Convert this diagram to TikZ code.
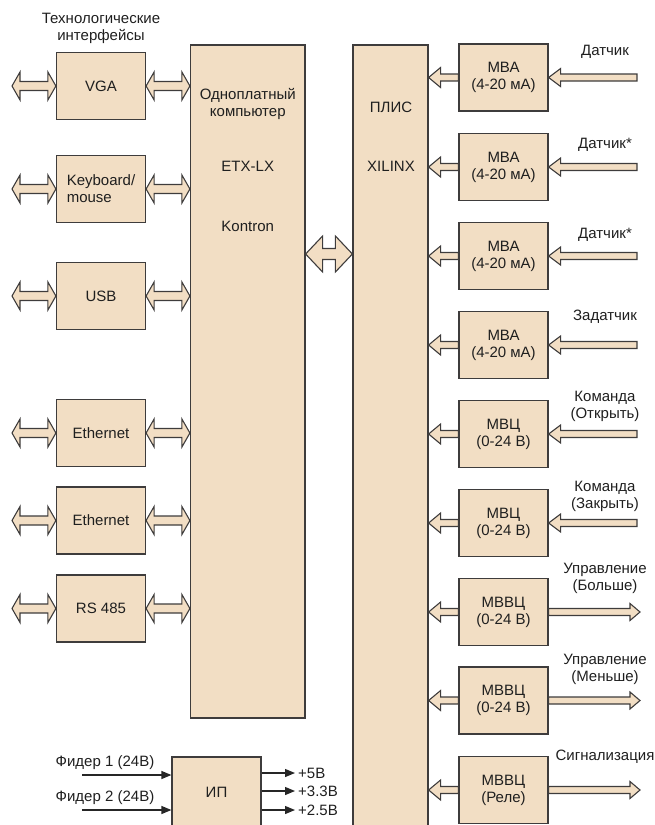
\documentclass[tikz,border=0pt]{standalone}
\usepackage{fontspec}
\setmainfont{Liberation Sans}
\usetikzlibrary{calc,arrows.meta}

\definecolor{boxfill}{RGB}{242,222,196}
\definecolor{boxline}{RGB}{62,60,60}

\tikzset{
  dbl/.style n args={3}{fill=boxfill, draw=boxline, line width=1.1pt,
    to path={let \p1=(\tikztostart), \p2=(\tikztotarget),
      \p3=($(\tikztostart)!#1!(\tikztotarget)$), \p4=($(\tikztotarget)!#1!(\tikztostart)$) in
      (\x1,\y1) -- (\x3,\y1+#2) -- (\x3,\y1+#3) -- (\x4,\y1+#3) -- (\x4,\y1+#2) -- (\x2,\y1)
      -- (\x4,\y1-#2) -- (\x4,\y1-#3) -- (\x3,\y1-#3) -- (\x3,\y1-#2) -- cycle}},
  sgl/.style n args={3}{fill=boxfill, draw=boxline, line width=1.1pt,
    to path={let \p1=(\tikztostart), \p2=(\tikztotarget),
      \p4=($(\tikztotarget)!#1!(\tikztostart)$) in
      (\x1,\y1+#3) -- (\x4,\y1+#3) -- (\x4,\y1+#2) -- (\x2,\y1)
      -- (\x4,\y1-#2) -- (\x4,\y1-#3) -- (\x1,\y1-#3) -- cycle}}
}

\begin{document}
\begin{tikzpicture}[x=1pt, y=-1pt,
  every node/.style={font=\fontsize{15}{17}\selectfont, text=black!88, align=center},
  box/.style={draw=boxline, line width=1.2pt, fill=boxfill, inner sep=0pt,
    minimum width=89pt, minimum height=67pt},
  port/.style={dbl={8pt}{14pt}{4.5pt}},
  bus/.style={dbl={17pt}{18pt}{5.5pt}},
  sense/.style={sgl={12pt}{9pt}{3.5pt}},
  tap/.style={sgl={12pt}{10pt}{3.5pt}},
  drive/.style={sgl={10pt}{8.5pt}{3.5pt}},
  power/.style={line width=1.2pt, draw=black!85, -{Triangle[length=10pt,width=8pt]}}]
\useasboundingbox (0,0) rectangle (655,825);

\node[box, minimum width=114.5pt, minimum height=673pt] (pc) at (247.75,381.5) {};
\node[box, minimum width=75pt, minimum height=800pt] (plis) at (390.5,445) {};

\node (title) at (101,28.5) {Технологические\\интерфейсы};
\node (pc-name) at (247.75,104) {Одноплатный\\компьютер};
\node (pc-type) at (247.75,166) {ETX-LX};
\node (pc-make) at (247.75,226) {Kontron};
\node (plis-name) at (391,107) {ПЛИС};
\node (plis-make) at (391,166) {XILINX};

\foreach \name/\y/\txt/\al in {vga/86/VGA/center, kbd/189/{Keyboard/\\mouse}/left,
    usb/296/USB/center, eth1/433/Ethernet/center, eth2/520.5/Ethernet/center,
    rs/608.5/RS 485/center} {
  \node[box, align=\al] (\name) at (101,\y) {\txt};
  \coordinate (\name-ext) at (12,\y);
  \draw[port] (\name-ext) to (\name.west);
  \draw[port] (\name.east) to (\name.east -| pc.west);
}

\coordinate (bus) at (328,254);
\draw[bus] (bus -| pc.east) to (bus -| plis.west);

\foreach \name/\y/\txt/\sig/\ly in {
    mba1/77.5/{МВА\\(4-20 мА)}/Датчик/52,
    mba2/167/{МВА\\(4-20 мА)}/Датчик*/145,
    mba3/256/{МВА\\(4-20 мА)}/Датчик*/235,
    mba4/345/{МВА\\(4-20 мА)}/Задатчик/317,
    mvc1/434/{МВЦ\\(0-24 В)}/{Команда\\(Открыть)}/406,
    mvc2/523/{МВЦ\\(0-24 В)}/{Команда\\(Закрыть)}/496} {
  \node[box] (\name) at (503.5,\y) {\txt};
  \coordinate (\name-src) at (637,\y);
  \draw[sense] (\name-src) to (\name.east);
  \draw[tap] (\name.west) to (\name.west -| plis.east);
  \node (\name-lbl) at (605,\ly) {\sig};
}

\foreach \name/\y/\txt/\sig/\ly in {
    mvvc1/612/{МВВЦ\\(0-24 В)}/{Управление\\(Больше)}/578.5,
    mvvc2/700.5/{МВВЦ\\(0-24 В)}/{Управление\\(Меньше)}/669,
    mvvc3/790/{МВВЦ\\(Реле)}/Сигнализация/757} {
  \node[box] (\name) at (503.5,\y) {\txt};
  \coordinate (\name-dst) at (640,\y);
  \draw[drive] (\name.east) to (\name-dst);
  \draw[tap] (\name.west) to (\name.west -| plis.east);
  \node (\name-lbl) at (605,\ly) {\sig};
}

\node[box, minimum height=71pt] (ip) at (216.5,792.5) {ИП};
\coordinate (fd1) at (82,775);
\coordinate (fd2) at (82,810);
\draw[power] (fd1) -- (fd1 -| ip.west);
\draw[power] (fd2) -- (fd2 -| ip.west);
\node (fd1-lbl) at (105,763) {Фидер 1 (24В)};
\node (fd2-lbl) at (105,798) {Фидер 2 (24В)};
\foreach \v/\y/\u in {p5/773/+5В, p33/791/+3.3В, p25/810/+2.5В} {
  \coordinate (\v) at (295,\y);
  \draw[power] (\v -| ip.east) -- (\v);
  \node[anchor=west, inner sep=3pt] (\v-lbl) at (\v) {\u};
}
\end{tikzpicture}
\end{document}
